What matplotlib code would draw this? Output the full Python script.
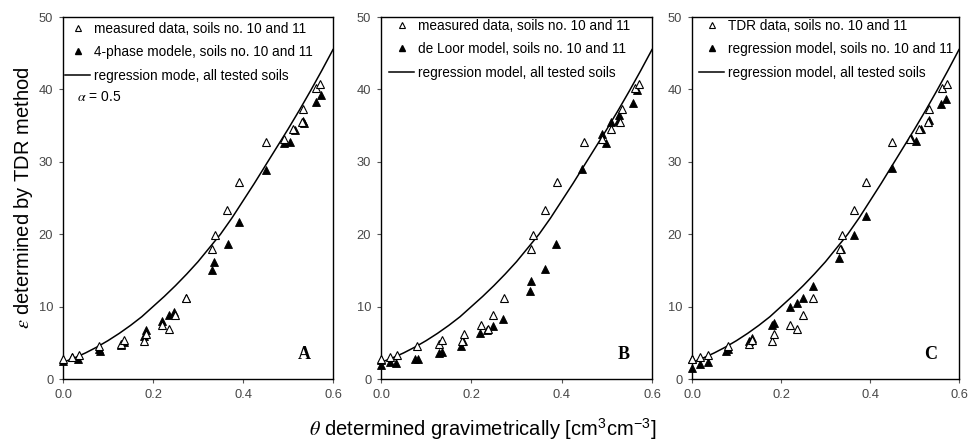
import matplotlib
matplotlib.use("Agg")
import matplotlib.pyplot as plt
from matplotlib.lines import Line2D

# ---------------- data ----------------
theta_meas = [0.000, 0.019, 0.035, 0.080, 0.128, 0.135, 0.179, 0.184, 0.221, 0.236, 0.249, 0.273,
              0.332, 0.337, 0.364, 0.390, 0.450, 0.490, 0.510, 0.530, 0.533, 0.562, 0.572]
eps_meas = [2.7, 3.0, 3.3, 4.5, 4.9, 5.4, 5.2, 6.2, 7.4, 6.9, 8.8, 11.2,
            18.0, 19.9, 23.3, 27.2, 32.7, 33.2, 34.5, 35.5, 37.3, 40.2, 40.7]

theta_A = [0.000, 0.019, 0.034, 0.080, 0.082, 0.129, 0.135, 0.179, 0.184, 0.221, 0.235, 0.247, 0.273,
           0.331, 0.336, 0.366, 0.392, 0.450, 0.492, 0.504, 0.516, 0.533, 0.536, 0.562, 0.573]
eps_A = [2.5, 3.0, 2.8, 4.1, 3.8, 4.7, 5.1, 6.0, 6.8, 8.0, 8.8, 9.3, 11.2,
         15.0, 16.1, 18.6, 21.7, 28.8, 32.6, 32.7, 34.4, 35.6, 35.4, 38.3, 39.2]

theta_B = [0.000, 0.000, 0.019, 0.034, 0.076, 0.083, 0.129, 0.135, 0.177, 0.181, 0.219, 0.234, 0.247, 0.271,
           0.329, 0.333, 0.362, 0.388, 0.446, 0.489, 0.498, 0.509, 0.525, 0.527, 0.557, 0.566]
eps_B = [2.6, 2.0, 2.3, 2.2, 2.8, 2.8, 3.6, 3.7, 4.6, 5.2, 6.3, 6.8, 7.3, 8.3,
         12.2, 13.5, 15.2, 18.6, 29.0, 33.8, 32.6, 35.5, 35.6, 36.5, 38.1, 39.9]

theta_C = [0.000, 0.000, 0.019, 0.036, 0.076, 0.081, 0.129, 0.135, 0.179, 0.184, 0.221, 0.236, 0.249, 0.273,
           0.331, 0.335, 0.364, 0.390, 0.450, 0.492, 0.503, 0.514, 0.533, 0.560, 0.571]
eps_C = [2.7, 1.5, 2.05, 2.3, 3.9, 4.1, 5.3, 5.7, 7.5, 7.8, 9.9, 10.5, 11.2, 12.8,
         16.7, 18.0, 19.9, 22.5, 29.2, 33.3, 32.9, 34.5, 35.8, 38.0, 38.7]

# regression model curve
theta_reg = [0.000, 0.025, 0.050, 0.075, 0.100, 0.125, 0.150, 0.175, 0.200, 0.225, 0.250, 0.275,
             0.300, 0.325, 0.350, 0.375, 0.400, 0.425, 0.450, 0.475, 0.500, 0.525, 0.550, 0.575, 0.600]
eps_reg = [2.3, 2.9, 3.6, 4.4, 5.3, 6.3, 7.4, 8.6, 10.0, 11.4, 12.9, 14.5,
           16.2, 18.1, 20.0, 22.2, 24.6, 27.0, 29.5, 32.0, 34.5, 37.1, 39.8, 42.6, 45.5]

x_ticks = [0.0, 0.2, 0.4, 0.6]
x_ticklabels = ["0.0", "0.2", "0.4", "0.6"]
y_ticks = [0, 10, 20, 30, 40, 50]

panels = [
    dict(letter="A", theta=theta_A, eps=eps_A,
         labels=["measured data, soils no. 10 and 11",
                 "4-phase modele, soils no. 10 and 11",
                 "regression mode, all tested soils"]),
    dict(letter="B", theta=theta_B, eps=eps_B,
         labels=["measured data, soils no. 10 and 11",
                 "de Loor model, soils no. 10 and 11",
                 "regression model, all tested soils"]),
    dict(letter="C", theta=theta_C, eps=eps_C,
         labels=["TDR data, soils no. 10 and 11",
                 "regression model, soils no. 10 and 11",
                 "regression model, all tested soils"]),
]

# ---------------- figure ----------------
plt.rcParams['font.family'] = ['Liberation Sans', 'DejaVu Sans']
plt.rcParams['mathtext.fontset'] = 'stix'

W, H = 972, 441
fig = plt.figure(figsize=(W / 100, H / 100), dpi=100)

ax_px = [(63, 270), (381, 271), (692, 267)]
bottom_px, top_px = 379, 17
leg_anchor_px = [(65, 22), (389, 19), (699, 19)]

tick_color = "#484848"

for i, (p, (lx, w)) in enumerate(zip(panels, ax_px)):
    ax = fig.add_axes([lx / W, 1 - bottom_px / H, w / W, (bottom_px - top_px) / H])
    ax.set_xlim(0, 0.6)
    ax.set_ylim(0, 50)
    ax.plot(theta_reg, eps_reg, color="black", lw=1.1, zorder=2)
    ax.plot(p["theta"], p["eps"], linestyle="none", marker="^", ms=5.8,
            mfc="black", mec="black", mew=0.6, zorder=3, clip_on=False)
    ax.plot(theta_meas, eps_meas, linestyle="none", marker="^", ms=5.8,
            mfc="white", mec="black", mew=0.8, zorder=4, clip_on=False)

    ax.set_xticks(x_ticks)
    ax.set_xticklabels(x_ticklabels)
    ax.set_yticks(y_ticks)
    ax.tick_params(direction="out", length=3, width=0.8, labelsize=9.3,
                   labelcolor=tick_color, color="#555555", pad=4)
    for s in ax.spines.values():
        s.set_linewidth(1.0)
        s.set_color("black")

    handles = [
        Line2D([], [], linestyle="none", marker="^", ms=5.0, mfc="white", mec="black", mew=0.8),
        Line2D([], [], linestyle="none", marker="^", ms=5.0, mfc="black", mec="black"),
        Line2D([], [], color="black", lw=1.1),
    ]
    ax_x, ax_y = leg_anchor_px[i]
    ax.legend(handles, p["labels"], loc="upper left", frameon=False,
              fontsize=9.8, handlelength=1.85, handletextpad=0.3,
              labelspacing=0.68, borderaxespad=0, borderpad=0,
              bbox_to_anchor=(ax_x / W, 1 - ax_y / H), bbox_transform=fig.transFigure)

    ax.text(0.537, 3.4, p["letter"], fontsize=13, fontweight="bold",
            family=["Liberation Serif", "DejaVu Serif"], ha="center", va="center")

    if i == 0:
        ax.text(0.03, 39.0, r"$\alpha$ = 0.5", fontsize=10, ha="left", va="center")
        ax.set_ylabel(r"$\varepsilon$ determined by TDR method", fontsize=14.5, labelpad=3)

fig.text(0.497, 0.027, r"$\theta$ determined gravimetrically [cm$^{\mathregular{3}}$cm$^{\mathregular{-3}}$]",
         fontsize=14.5, ha="center", va="center")

fig.savefig("out.png", dpi=100)
